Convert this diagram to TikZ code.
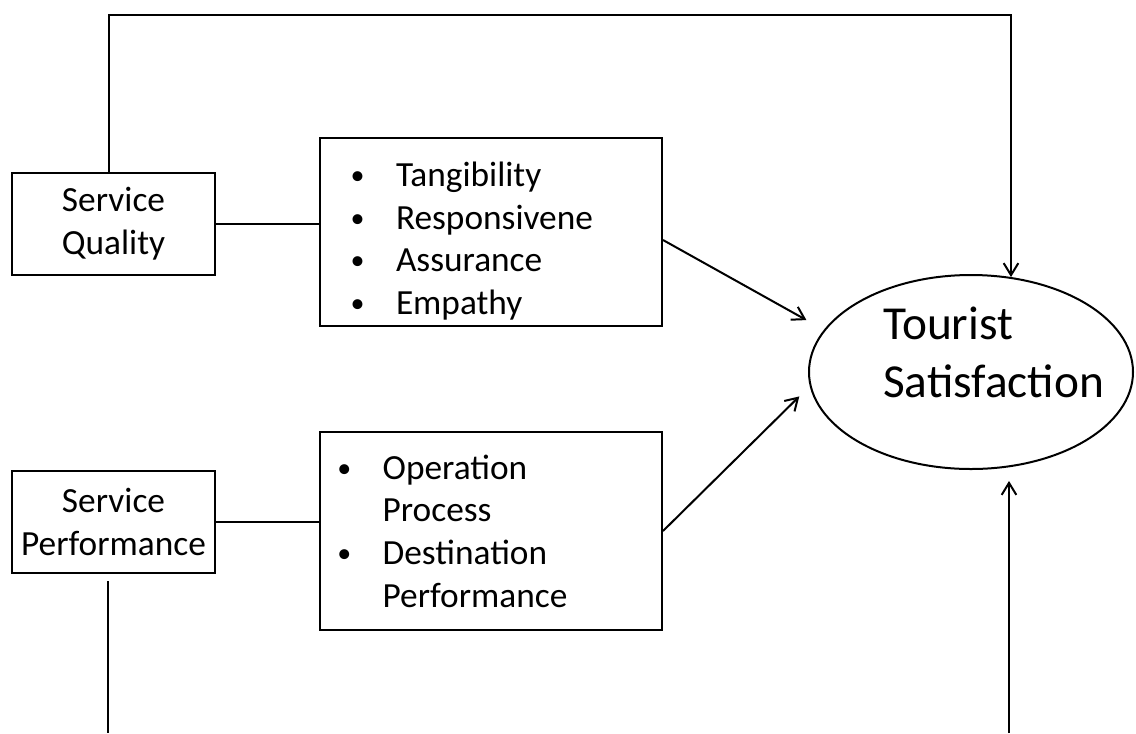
\documentclass[tikz,border=0pt]{standalone}
\usepackage{fontspec}
\setmainfont{Carlito}
\usetikzlibrary{shapes.geometric,arrows.meta,positioning}
\newcommand{\itm}{\makebox[34pt][l]{\raisebox{1.5pt}{\fontsize{21}{21}\selectfont\textbullet}}}
\newcommand{\cont}{\hspace*{34pt}}

\begin{document}
\begin{tikzpicture}[x=0.75pt, y=-0.75pt,
      cons/.style={draw, line width=1.5pt, align=center, font=\fontsize{26.5}{32}\selectfont, minimum width=152.25pt, minimum height=76.5pt, inner sep=0pt},
      dims/.style={draw, line width=1.5pt, align=left, font=\fontsize{26.5}{32}\selectfont, inner ysep=0pt},
      goal/.style={draw, ellipse, line width=1.5pt, minimum width=243pt, minimum height=145.5pt, inner sep=0pt},
      link/.style={line width=1.5pt},
      arr/.style={-{Straight Barb[length=9pt,width=11pt]}, line width=1.5pt}
    ]
    \useasboundingbox (0,0) rectangle (1136,733);
    \node[cons] (sq) at (113.5,224) {Service\\Quality};
    \node[cons] (sp) at (113.5,522) {Service\\Performance};
    \node[dims, text width=210.5pt, inner xsep=23pt, minimum height=141pt] (d1) at (491,232) {\rule{0pt}{32pt}\itm Tangibility\\\itm Responsivene\\\itm Assurance\\\itm Empathy};
    \node[dims, text width=230.5pt, inner xsep=13pt, minimum height=148.5pt] (d2) at (491,531) {\itm Operation\\\cont Process\\\itm Destination\\\cont Performance};
    \node[goal, label={[font=\fontsize{35.5}{43.5}\selectfont, align=left, xshift=17pt, yshift=15pt]center:Tourist\\Satisfaction}] (ts) at (971,372) {};
    \coordinate (topr) at (1011,15);
    \coordinate (spend) at (108,733);
    \coordinate (tsend) at (1009,733);
    \draw[link] (sq.east) -- (sq.east -| d1.west); \draw[link] (sp.east) -- (sp.east -| d2.west);
    \draw[arr] ([xshift=-3.75pt]sq.north) |- (topr) -- (topr |- ts.67);
    \draw[link] ([shift={(-5.5,7)}]sp.south) -- (spend);
    \draw[arr, shorten >=10.5pt] (tsend) -- (tsend |- ts.-67);
    \draw[arr, shorten >=15pt] ([yshift=-6pt]d1.east) -- (ts.164);
    \draw[arr, shorten >=11pt] (d2.east) -- (ts.185);
  \end{tikzpicture}
\end{document}
